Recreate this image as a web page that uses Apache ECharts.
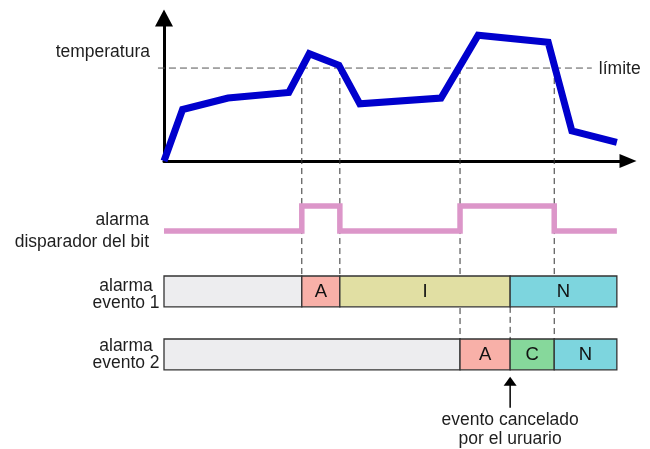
<!DOCTYPE html>
<html><head><meta charset="utf-8">
<script src="https://cdn.jsdelivr.net/npm/echarts@6/dist/echarts.min.js"></script>
<style>html,body{margin:0;padding:0;background:#fff}#c{width:650px;height:449px}</style>
</head><body><div id="c"></div>
<script>
// ---- data (time in arbitrary units 0..100) ----
const tempTimes  = [0, 4, 13.8, 26.9, 31.3, 37.7, 42.2, 59.7, 67.7, 82.8, 87.9, 97.6];
const tempValues = [0, 36, 44, 48, 75, 67, 40, 44, 88, 83, 21, 13];
const limitValue = 65;
const limitStart = -1.3, limitEnd = 92.2;
const limitLabel = 'límite';
const tempLabel = 'temperatura';
const tempLabelValue = 76;

const bitTimes  = [0, 29.7, 37.9, 63.8, 84.1, 97.6];
const bitValues = [0, 1, 0, 1, 0, 0];
const bitName = 'alarma\ndisparador del bit';

const ev1Starts = [0, 29.7, 37.9, 74.6];
const ev1Ends   = [29.7, 37.9, 74.6, 97.6];
const ev1States = ['', 'A', 'I', 'N'];
const ev2Starts = [0, 63.8, 74.6, 84.1];
const ev2Ends   = [63.8, 74.6, 84.1, 97.6];
const ev2States = ['', 'A', 'C', 'N'];
const rowNames = ['alarma\nevento 1', 'alarma\nevento 2'];

const crossTimesRow1 = [29.7, 37.9];   // connectors ending at row 1
const crossTimesRow2 = [63.8, 84.1];   // connectors ending at row 2
const cancelTime = 74.6;
const cancelText = 'evento cancelado\npor el uruario';

// ---- styles ----
const FONT = 'Liberation Sans, Arial, sans-serif';
const FS = 17.5;
const TXT = '#1e1e1e';
const ROW_H = 0.49;
const stateColors = { '': '#ededef', 'A': '#f8b0a8', 'I': '#e1dfa3', 'N': '#7dd5de', 'C': '#86d89b' };

const tempData = tempTimes.map((t, i) => [t, tempValues[i]]);
const bitData = bitTimes.map((t, i) => [t, bitValues[i]]);
const rowData = [], rowStates = [];
ev1Starts.forEach((s, i) => { rowData.push([s, ev1Ends[i], 0]); rowStates.push(ev1States[i]); });
ev2Starts.forEach((s, i) => { rowData.push([s, ev2Ends[i], 1]); rowStates.push(ev2States[i]); });

const chart = echarts.init(document.getElementById('c'), null, { renderer: 'canvas' });
const G = { left: 164, right: 22 };
const hiddenX = (gi) => ({ type: 'value', gridIndex: gi, min: 0, max: 100, show: false });

const option = {
  animation: false,
  backgroundColor: '#fff',
  grid: [
    { left: G.left, right: G.right, top: 18, height: 143 },
    { left: G.left, right: G.right, top: 206, height: 25 },
    { left: G.left, right: G.right, top: 276, height: 94.5 }
  ],
  xAxis: [
    { type: 'value', gridIndex: 0, min: 0, max: 100,
      axisLine: { show: true, symbol: ['none', 'triangle'], symbolSize: [14, 17], lineStyle: { color: '#000', width: 3 } },
      axisTick: { show: false }, axisLabel: { show: false }, splitLine: { show: false } },
    hiddenX(1), hiddenX(2)
  ],
  yAxis: [
    { type: 'value', gridIndex: 0, min: 0, max: 100,
      axisLine: { show: true, symbol: ['none', 'triangle'], symbolSize: [18, 17], lineStyle: { color: '#000', width: 3 } },
      axisTick: { show: false }, axisLabel: { show: false }, splitLine: { show: false } },
    { type: 'value', gridIndex: 1, min: 0, max: 1, show: false },
    { type: 'value', gridIndex: 2, min: 0, max: 1.5, inverse: true, show: false }
  ],
  series: [
    { type: 'line', xAxisIndex: 0, yAxisIndex: 0, data: tempData, symbol: 'none', clip: false, z: 5,
      lineStyle: { color: '#0000cd', width: 7, join: 'miter', cap: 'butt' } },
    { type: 'line', xAxisIndex: 1, yAxisIndex: 1, data: bitData, step: 'end', symbol: 'none', clip: false, z: 5,
      lineStyle: { color: '#dc96c9', width: 5.5, join: 'miter', cap: 'butt' } },
    { type: 'custom', xAxisIndex: 2, yAxisIndex: 2, data: rowData, clip: false, z: 5,
      renderItem: function (params, api) {
        const s = api.value(0), e = api.value(1), r = api.value(2);
        const p0 = api.coord([s, r]), p1 = api.coord([e, r + ROW_H]);
        const st = rowStates[params.dataIndex];
        return { type: 'rect',
          shape: { x: p0[0], y: p0[1], width: p1[0] - p0[0], height: p1[1] - p0[1] },
          style: { fill: stateColors[st], stroke: '#333', lineWidth: 1.3 },
          textContent: { style: { text: st, fontSize: 18.5, fontFamily: FONT, fill: '#111' } },
          textConfig: { position: 'inside' } };
      } }
  ]
};
chart.setOption(option);

// ---- second pass: limit, connectors, labels, annotation, placed via the axes' scales ----
const px = (t) => chart.convertToPixel({ xAxisIndex: 0 }, t);
const py0 = (v) => chart.convertToPixel({ yAxisIndex: 0 }, v);
const py1 = (v) => chart.convertToPixel({ yAxisIndex: 1 }, v);
const py2 = (v) => chart.convertToPixel({ yAxisIndex: 2 }, v);
const yLim = py0(limitValue);
const r1Top = py2(0), r1Bot = py2(ROW_H), r2Top = py2(1), r2Bot = py2(1 + ROW_H);
const x0 = px(0);
const dash = { stroke: '#333', lineWidth: 1, lineDash: [6, 4] };
const g = [];
g.push({ type: 'line', z: 1, shape: { x1: px(limitStart), y1: yLim, x2: px(limitEnd), y2: yLim },
  style: { stroke: '#555', lineWidth: 1, lineDash: [7, 4] } });
crossTimesRow1.forEach(t => g.push({ type: 'line', z: 1, shape: { x1: px(t), y1: yLim, x2: px(t), y2: r1Top }, style: dash }));
crossTimesRow2.forEach(t => g.push({ type: 'line', z: 1, shape: { x1: px(t), y1: yLim, x2: px(t), y2: r2Top }, style: dash }));
g.push({ type: 'line', z: 1, shape: { x1: px(cancelTime), y1: r1Bot, x2: px(cancelTime), y2: r2Top }, style: dash });

const txt = (text, x, y, align, lh) => ({ type: 'text', z: 10, x: x, y: y,
  style: { text: text, fill: TXT, fontSize: FS, fontFamily: FONT, align: align, verticalAlign: 'middle', lineHeight: lh } });
g.push(txt(tempLabel, x0 - 14, py0(tempLabelValue), 'right', 20));
g.push(txt(limitLabel, px(limitEnd) + 7, yLim + 1, 'left', 20));
g.push(txt(bitName, x0 - 15, py1(0), 'right', 22));
g.push(txt(rowNames[0], x0 - 38, (r1Top + r1Bot) / 2 + 3, 'center', 17));
g.push(txt(rowNames[1], x0 - 38, (r2Top + r2Bot) / 2, 'center', 17));

const xc = px(cancelTime);
g.push({ type: 'polygon', z: 10, shape: { points: [[xc, r2Bot + 7], [xc - 6.5, r2Bot + 16], [xc + 6.5, r2Bot + 16]] }, style: { fill: '#000' } });
g.push({ type: 'line', z: 10, shape: { x1: xc, y1: r2Bot + 15, x2: xc, y2: r2Bot + 38 }, style: { stroke: '#000', lineWidth: 1.5 } });
g.push({ type: 'text', z: 10, x: xc, y: r2Bot + 41,
  style: { text: cancelText, fill: TXT, fontSize: FS, fontFamily: FONT, align: 'center', verticalAlign: 'top', lineHeight: 19 } });

chart.setOption({ graphic: g });
</script>
</body></html>
